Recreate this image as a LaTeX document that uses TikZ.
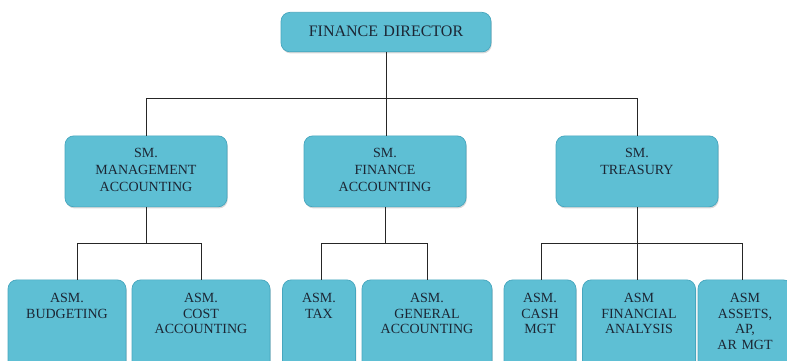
\documentclass[tikz,border=0pt]{standalone}
\usepackage{fontspec}
\setmainfont{Liberation Serif}
\usetikzlibrary{positioning, shadows}

\definecolor{boxfill}{RGB}{94,191,212}
\definecolor{boxline}{RGB}{70,166,190}
\definecolor{ink}{RGB}{28,38,52}

\tikzset{
    post/.style={draw=boxline, fill=boxfill, text=ink, rounded corners=9pt,
        line width=0.7pt, align=center, inner sep=0pt,
        drop shadow={shadow xshift=0.8pt, shadow yshift=-1.6pt, opacity=0.3}},
    director/.style={post, anchor=north, text width=210pt, text height=24.3pt,
        text depth=15.2pt, font=\fontsize{16}{19}\selectfont},
    senior/.style={post, anchor=north, text width=162pt, text height=22pt,
        text depth=49pt, font=\fontsize{14}{17}\selectfont},
    assistant/.style={post, anchor=north, text height=23pt, text depth=80pt,
        font=\fontsize{14}{15.5}\selectfont},
    link/.style={draw=black!85, line width=0.9pt},
}

\begin{document}
\begin{tikzpicture}[x=1pt, y=-1pt]
    \useasboundingbox (0,0) rectangle (787,361);
    \clip (0,0) rectangle (787,361);

    % bus lines
    \coordinate (bus0) at (0,98);
    \coordinate (bus1) at (0,243);

    \node[director] (fd) at (386,12) {FINANCE DIRECTOR};

    \node[senior] (sm1) at (146,135.5) {SM.\\MANAGEMENT\\ACCOUNTING};
    \node[senior] (sm2) at (385,135.5) {SM.\\FINANCE\\ACCOUNTING};
    \node[senior] (sm3) at (637,135.5) {SM.\\TREASURY};

    \node[assistant, text width=118pt] (budget) at (67,279.5) {ASM.\\BUDGETING};
    \node[assistant, text width=138pt] (cost) at (201,279.5) {ASM.\\COST\\ACCOUNTING};
    \node[assistant, text width=73pt] (tax) at (319,279.5) {ASM.\\TAX};
    \node[assistant, text width=130pt] (general) at (427,279.5) {ASM.\\GENERAL\\ACCOUNTING};
    \node[assistant, text width=72pt] (cash) at (540,279.5) {ASM.\\CASH\\MGT};
    \node[assistant, text width=113pt] (analysis) at (639,279.5) {ASM\\FINANCIAL\\ANALYSIS};
    \node[assistant, text width=94pt] (assets) at (745,279.5) {ASM\\ASSETS,\\AP,\\AR MGT};

    % director to senior managers
    \draw[link] (fd.south) -- (fd.south |- sm2.north);
    \draw[link] (sm1.north) -- (sm1.north |- bus0) -- (sm3.north |- bus0) -- (sm3.north);

    % senior managers to assistants
    \draw[link] (sm1.south) -- (sm1.south |- bus1);
    \draw[link] ([xshift=10pt]budget.north) |- (cost.north |- bus1) -- (cost.north);

    \draw[link] (sm2.south) -- (sm2.south |- bus1);
    \draw[link] ([xshift=2pt]tax.north) |- (general.north |- bus1) -- (general.north);

    \draw[link] (sm3.south) -- (sm3.south |- analysis.north);
    \draw[link] ([xshift=1pt]cash.north) |- ([xshift=-3pt]assets.north |- bus1) -- ([xshift=-3pt]assets.north);
\end{tikzpicture}
\end{document}
